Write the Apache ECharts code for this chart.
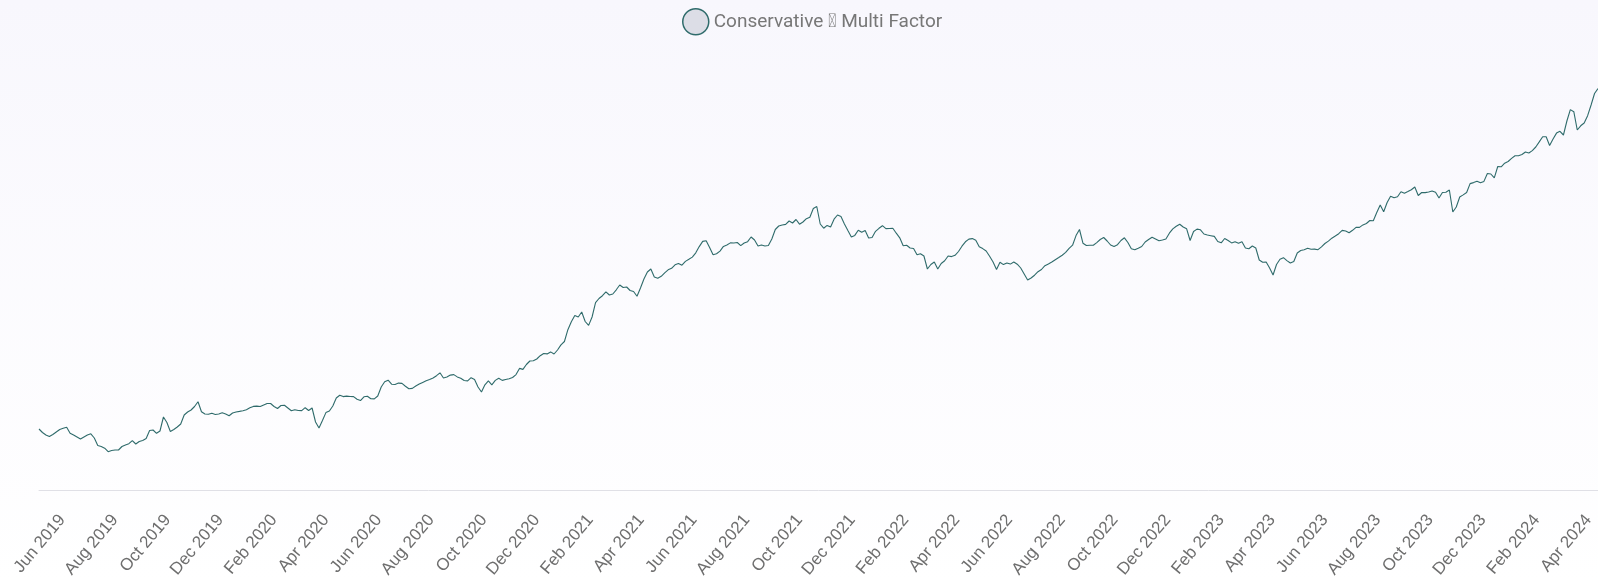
<!DOCTYPE html>
<html><head><meta charset="utf-8">
<script src="https://cdn.jsdelivr.net/npm/echarts@6/dist/echarts.min.js"></script>
<style>html,body{margin:0;padding:0;background:#fff;}#c{width:1598px;height:582px;}</style>
</head><body><div id="c"></div>
<script>
const seriesName = 'Conservative \uE000 Multi Factor';
const startDate = [2019, 4, 5]; // 5 May 2019 (UTC, month 0-based)
const dayStep = 4;
const tickLabels = ['Jun 2019','Aug 2019','Oct 2019','Dec 2019','Feb 2020','Apr 2020','Jun 2020','Aug 2020','Oct 2020','Dec 2020',
  'Feb 2021','Apr 2021','Jun 2021','Aug 2021','Oct 2021','Dec 2021','Feb 2022','Apr 2022','Jun 2022','Aug 2022',
  'Oct 2022','Dec 2022','Feb 2023','Apr 2023','Jun 2023','Aug 2023','Oct 2023','Dec 2023','Feb 2024','Apr 2024'];
const values = [
61,57.5,55,53.5,55.5,58,60.5,61.7,62.7,56.7,55,53,51,53,55,56.2,52,44.5,43.5,41.8,
38.3,39.5,40,40,43.5,45,46.3,49.3,46,48.5,49.5,51.5,59.5,60,56.7,59,73,67.5,58.5,60.5,
63,66,75,78,80,83.5,88.3,78.3,76,75.7,76.7,75.5,76,77.2,76,74.2,77,78,78.6,79.3,
80.3,82.2,83.6,83.9,83.5,85,86.5,86.5,83.5,81.5,84.5,84.7,82,79.3,80.3,79.5,79.4,82.3,79.5,82,
68,62,69.5,77.4,79,84,92,94.8,93.4,93.9,93.5,93.4,90.7,89.4,93.2,93.8,91.2,91.1,94,103,
108.2,109.8,105.8,105.5,106.9,106.6,103.8,101.3,101.6,104,105.9,107.6,109.3,110.4,112,114.3,117.2,112,113,114.9,
115.4,113.1,111.8,109.5,109.1,112.3,110.6,103,98,105.2,109.2,105.2,109.6,111.8,109.6,110.5,111.2,112.5,115.4,121.6,
120.6,125.5,129,129.2,131,134.3,136.5,136.1,138.1,136,140,145.1,148.5,160.3,168.3,174.5,173,178,168.5,164.6,
173,187.3,191.5,194.3,198.2,195,196,200.2,205,202.5,203,199.5,198.5,193.7,202,211,218,221,213,211.8,
213.7,217.2,220.2,221.7,225.2,226.5,224.8,228.6,230.7,232.9,237.2,243.4,248.6,249.3,242.5,235.3,236.2,238.9,243.6,245,
247.1,247,247.5,244.4,247,248.3,253,250,244,245,244,244.5,251,260.5,264,265,265.6,269,267,270.5,
265.8,268,271.3,272.8,281.5,283.5,266,261.8,264.6,263,270.8,275,273.5,266,259.5,253.1,254.6,259.8,257.8,259.5,
252,252.5,258.7,261.7,264.3,261.4,261.5,261.8,256.8,252.2,244.2,244.7,242,241.5,235.2,236.2,234,221,225.5,228,
221,226.5,229.2,234,233.4,234.7,238.5,243.8,248.2,250.9,251.4,249.8,243.2,241.4,239,233.8,228,220.5,227.8,225.4,
227.1,225.9,228,225.8,222,216,210,212,214.8,218.3,220.5,224.3,226,228,230.3,232.5,234.8,237.6,241.6,244.8,
254.4,260.5,246.8,244.5,244.7,244.8,247.4,250.5,252.5,249,245,243.5,245.3,249.5,252.2,247.5,241.2,240.2,241.8,243.5,
248,250.5,252.8,251.1,249.3,250,251,256.8,261.1,263.7,265.8,263,261.2,249.5,258.5,260.9,260.2,256,255,254.3,
253.6,248.5,247.2,251.5,249.5,247.1,248.3,246.7,248.2,242,241.2,244,242,230,227.7,228,222,215,225.5,230.7,
232.3,229.4,227,228.5,237,239.5,240.3,241.7,240.7,240.9,240.3,243.2,246.5,248.9,251.8,254,256.3,259.6,259,257.2,
259.7,262.7,262.6,265.1,266.5,269.5,269.3,277.5,284.9,278.3,287.5,293.8,292.2,293.3,298.2,296.7,298.4,300.3,303,294.5,
297.5,297.4,298,299,297.7,292,297.5,297.8,300,278,283,293,295.1,297.5,306.4,307.4,308.8,307.2,308.6,316.5,
316,312.2,323.5,323.2,326.8,328.5,331.6,334.3,334.3,335.5,338,337,339.4,343,348.1,353.3,353.2,344.5,351,356.9,
358.7,355,369,380.4,378.3,360,364.2,367,374.3,385,396.5,401.5
];

const MONTHS = ['Jan','Feb','Mar','Apr','May','Jun','Jul','Aug','Sep','Oct','Nov','Dec'];
const t0 = Date.UTC(startDate[0], startDate[1], startDate[2]);
const nDays = dayStep * (values.length - 1) + 1;
const categories = [];
for (let i = 0; i < nDays; i++) {
  categories.push(new Date(t0 + i * 86400000).toISOString().slice(0, 10));
}
function monthLabel(s) {
  const d = new Date(s + 'T00:00:00Z');
  return MONTHS[d.getUTCMonth()] + ' ' + d.getUTCFullYear();
}
const seriesData = values.map((v, i) => [categories[i * dayStep], v]);

const FONT = '"Liberation Sans", Arial, sans-serif';
const chart = echarts.init(document.getElementById('c'), null, {renderer: 'canvas'});
chart.setOption({
  animation: false,
  backgroundColor: new echarts.graphic.LinearGradient(0, 0, 0, 1, [
    {offset: 0, color: '#f8f7fd'},
    {offset: 1, color: '#ffffff'}
  ]),
  textStyle: {fontFamily: FONT},
  legend: {
    data: [seriesName],
    top: 3,
    left: 677,
    icon: 'circle',
    itemWidth: 26,
    itemHeight: 26,
    itemGap: 10,
    itemStyle: {color: '#dcdde6', borderColor: '#2f6b6b', borderWidth: 1.5},
    textStyle: {fontSize: 19, color: '#777777', fontFamily: 'Roboto'}
  },
  grid: {left: 39, right: 0, top: 40, bottom: 92, containLabel: false},
  xAxis: {
    type: 'category',
    data: categories,
    boundaryGap: false,
    axisLine: {show: true, lineStyle: {color: '#e0e0e6', width: 1}},
    axisTick: {show: false},
    splitLine: {show: false},
    axisLabel: {
      rotate: 50,
      margin: 27,
      fontSize: 17,
      color: '#6e6e6e',
      fontFamily: FONT,
      interval: function (index, value) {
        return value.slice(8) === '01' && tickLabels.indexOf(monthLabel(value)) >= 0;
      },
      formatter: function (value) { return monthLabel(value); }
    }
  },
  yAxis: {
    type: 'value',
    min: 0,
    max: 450,
    show: false,
    splitLine: {show: false}
  },
  series: [{
    name: seriesName,
    type: 'line',
    data: seriesData,
    showSymbol: false,
    symbol: 'none',
    lineStyle: {color: '#2f6b6b', width: 1.1},
    itemStyle: {color: '#2f6b6b'}
  }]
});
</script>
</body></html>
